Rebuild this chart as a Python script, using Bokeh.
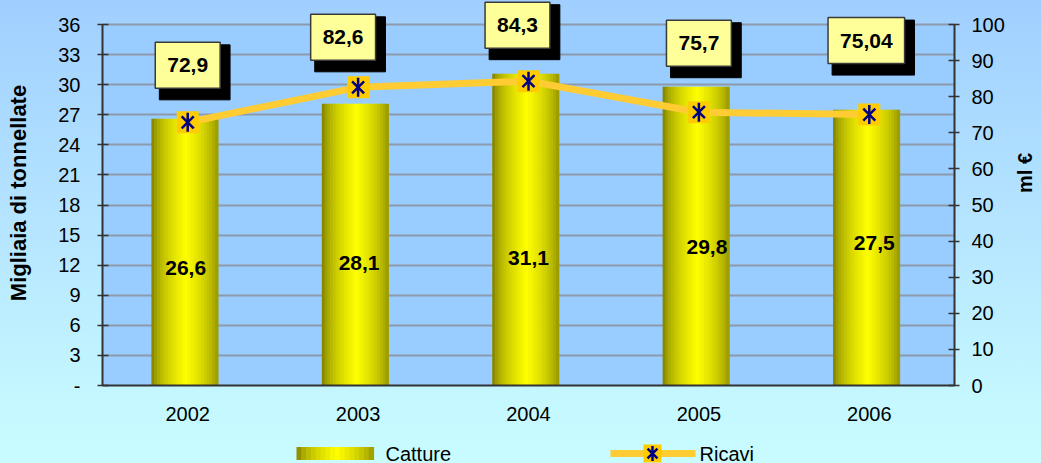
import math
from bokeh.plotting import figure
from bokeh.models import (ColumnDataSource, Range1d, LinearAxis, FactorRange, FixedTicker,
                          Label, BoxAnnotation)
from bokeh.transform import dodge
from bokeh.layouts import column
from bokeh.core.properties import value
from bokeh.embed import file_html
from bokeh.resources import INLINE

# ---------------- data ----------------
years = ["2002", "2003", "2004", "2005", "2006"]
catture = [26.6, 28.1, 31.1, 29.8, 27.5]          # migliaia di tonnellate (left axis)
ricavi = [72.9, 82.6, 84.3, 75.7, 75.04]          # ml € (right axis)
catture_labels = ["26,6", "28,1", "31,1", "29,8", "27,5"]
ricavi_labels = ["72,9", "82,6", "84,3", "75,7", "75,04"]
left_ticks = [0, 3, 6, 9, 12, 15, 18, 21, 24, 27, 30, 33, 36]
right_ticks = [0, 10, 20, 30, 40, 50, 60, 70, 80, 90, 100]
LEFT_MAX, RIGHT_MAX = 36, 100

# ---------------- style ----------------
FONT = "Liberation Sans"
DARK = (0x6C, 0x6C, 0x00)
BRIGHT = (0xFF, 0xFF, 0x00)
BAR_W = 0.39
BAR_SHIFT = -0.016
N_STRIPS = 24
# label box placement (pixel offsets from the Ricavi point; +y is up)
box_dx = [0, -15, -11, 0, -3]
box_dy = [57, 50, 56, 69, 74]
# inner bar label pixel offsets (from a common height inside the bars; +y is down)
in_dx = [-2, 1, 0, 8, 5]
in_dy = [8, 3, -2, -13, -17]
INNER_Y = 12.5

PAGE_W, PAGE_H = 1041, 463
PLOT_L, PLOT_T, PLOT_W, PLOT_H = 102, 24, 852, 361   # the blue plot area
MAIN_BOTTOM = 40
# the frame reaches the top of the page so that value boxes above the plot area are not clipped
FRAME_H = PLOT_T + PLOT_H
EXT = FRAME_H / PLOT_H


def shade(t):
    b = max(0.0, 1 - abs(t - 0.52) / 0.52) ** 0.5
    r = int(DARK[0] + (BRIGHT[0] - DARK[0]) * b)
    g = int(DARK[1] + (BRIGHT[1] - DARK[1]) * b)
    bl = int(DARK[2] + (BRIGHT[2] - DARK[2]) * b)
    return "#%02x%02x%02x" % (r, g, bl)


src = ColumnDataSource(dict(
    year=years, catture=catture, ricavi=ricavi, clab=catture_labels,
    idx=in_dx, idy=in_dy, iy=[INNER_Y] * len(years),
))

p = figure(x_range=FactorRange(factors=years), y_range=Range1d(0, LEFT_MAX * EXT),
           frame_width=PLOT_W, frame_height=FRAME_H,
           min_border_left=PLOT_L, min_border_right=PAGE_W - PLOT_L - PLOT_W,
           min_border_top=0, min_border_bottom=MAIN_BOTTOM,
           output_backend="svg", toolbar_location=None,
           background_fill_color=None, border_fill_color=None, outline_line_color=None)
p.extra_y_ranges = {"ricavi": Range1d(0, RIGHT_MAX * EXT)}

# blue plot area (0..36)
p.add_layout(BoxAnnotation(bottom=0, top=LEFT_MAX, fill_color="#99CCFF", fill_alpha=1.0,
                           line_color=None, level="image"))

ly = p.yaxis[0]
ly.ticker = FixedTicker(ticks=left_ticks)
ly.bounds = (0, LEFT_MAX)
ly.major_label_overrides = {0: "-"}
ly.axis_label = "Migliaia di tonnellate"
ly.axis_label_standoff = 24
ly.major_label_standoff = 17

ry = LinearAxis(y_range_name="ricavi", ticker=FixedTicker(ticks=right_ticks),
                axis_label="ml €", bounds=(0, RIGHT_MAX))
p.add_layout(ry, "right")
ry.axis_label_standoff = 17
ry.major_label_standoff = 12
ry.axis_label_orientation = math.pi / 2

for ax in (ly, ry):
    ax.axis_line_color = "#333333"
    ax.axis_line_width = 2
    ax.major_tick_line_color = "#333333"
    ax.major_tick_line_width = 1.5
    ax.major_tick_in = 6
    ax.major_tick_out = 5
    ax.minor_tick_line_color = None
    ax.major_label_text_font = FONT
    ax.major_label_text_font_size = "20px"
    ax.major_label_text_color = "black"
    ax.axis_label_text_font = FONT
    ax.axis_label_text_font_style = "bold"
    ax.axis_label_text_color = "black"
ly.axis_label_text_font_size = "22px"
ry.axis_label_text_font_size = "20px"

xa = p.xaxis[0]
xa.axis_line_color = "#333333"
xa.axis_line_width = 2
xa.major_tick_line_color = None
xa.minor_tick_line_color = None
xa.major_label_text_font = FONT
xa.major_label_text_font_size = "20px"
xa.major_label_standoff = 15
xa.major_label_text_color = "black"

p.xgrid.visible = False
p.ygrid.ticker = FixedTicker(ticks=left_ticks)
p.ygrid.grid_line_color = "#8c9aab"
p.ygrid.grid_line_width = 2

# ---------------- bars (cylinder gradient via strips) ----------------
for i in range(N_STRIPS):
    t = (i + 0.5) / N_STRIPS
    off = BAR_SHIFT - BAR_W / 2 + t * BAR_W
    p.vbar(x=dodge("year", off, range=p.x_range), top="catture", bottom=0,
           width=BAR_W / N_STRIPS * 1.25, source=src,
           fill_color=shade(t), line_color=None)

# ---------------- line ----------------
p.line(x="year", y="ricavi", y_range_name="ricavi", source=src,
       line_color="#FFCC33", line_width=7)
p.scatter(x="year", y="ricavi", y_range_name="ricavi", source=src,
          marker="square", size=22, fill_color="#FFCC00", line_color=None)
p.scatter(x="year", y="ricavi", y_range_name="ricavi", source=src,
          marker="x", size=17, line_color="#000080", line_width=2.5)
p.scatter(x="year", y="ricavi", y_range_name="ricavi", source=src,
          marker="dash", angle=math.pi / 2, size=19, line_color="#000080", line_width=2.5)

# ---------------- value boxes ----------------
for i, (v, txt, dx, dy) in enumerate(zip(ricavi, ricavi_labels, box_dx, box_dy)):
    xc = i + 0.5  # synthetic coordinate of the category centre
    p.add_layout(Label(x=xc, y=v, y_range_name="ricavi", x_offset=dx + 7, y_offset=dy - 7,
                       text="\u2007" * len(txt), text_font=FONT, text_font_size="21px",
                       text_font_style="bold", text_align="center", text_baseline="middle",
                       background_fill_color="black", border_line_color="black",
                       padding=(12, 16)))
    p.add_layout(Label(x=xc, y=v, y_range_name="ricavi", x_offset=dx, y_offset=dy,
                       text=txt, text_font=FONT, text_font_size="21px", text_color="black",
                       text_font_style="bold", text_align="center", text_baseline="middle",
                       background_fill_color="#FFFF99", border_line_color="#3a3a3a",
                       border_line_width=1.5, padding=(12, 16)))

p.text(x="year", y="iy", source=src, text="clab", x_offset="idx", y_offset="idy",
       text_font=value(FONT), text_font_size="21px", text_font_style="bold",
       text_color="black", text_align="center", text_baseline="middle")

# ---------------- legend (separate strip; its x data = page pixels) ----------------
LEG_H = PAGE_H - (FRAME_H + MAIN_BOTTOM)
lg = figure(width=PAGE_W, height=LEG_H,
            x_range=Range1d(PLOT_L, PLOT_L + PLOT_W), y_range=Range1d(0, LEG_H),
            frame_width=PLOT_W, min_border_left=PLOT_L,
            min_border_right=PAGE_W - PLOT_L - PLOT_W, min_border_top=0, min_border_bottom=0,
            x_axis_type=None, y_axis_type=None, output_backend="svg",
            toolbar_location=None,
            background_fill_color=None, border_fill_color=None, outline_line_color=None)
lg.xgrid.visible = False
lg.ygrid.visible = False
LY = 10
sw_l, sw_r = 296, 373
n = 16
lefts = [sw_l + (sw_r - sw_l) * i / n for i in range(n)]
rights = [sw_l + (sw_r - sw_l) * (i + 1) / n + 0.6 for i in range(n)]
cols = [shade((i + 0.5) / n) for i in range(n)]
lg.quad(left=lefts, right=rights, bottom=LY - 6.5, top=LY + 6.5, fill_color=cols, line_color=None)
lg.text(x=[385], y=[LY], text=["Catture"], text_font=value(FONT), text_font_size="20px",
        text_align="left", text_baseline="middle", text_color="black")
lg.line(x=[610, 695], y=[LY, LY], line_color="#FFCC33", line_width=7)
lg.scatter(x=[652], y=[LY], marker="square", size=18, fill_color="#FFCC00", line_color=None)
lg.scatter(x=[652], y=[LY], marker="x", size=14, line_color="#000080", line_width=2.5)
lg.scatter(x=[652], y=[LY], marker="dash", angle=math.pi / 2, size=15,
           line_color="#000080", line_width=2.5)
lg.text(x=[699], y=[LY], text=["Ricavi"], text_font=value(FONT), text_font_size="20px",
        text_align="left", text_baseline="middle", text_color="black")

layout = column(p, lg)
layout.styles = {"background": "linear-gradient(180deg, #A0CFFF 0%, #B8E8FF 55%, #C6F9FF 90%, #C8FCFF 100%)"}

open("out.html", "w").write(file_html(layout, INLINE))
